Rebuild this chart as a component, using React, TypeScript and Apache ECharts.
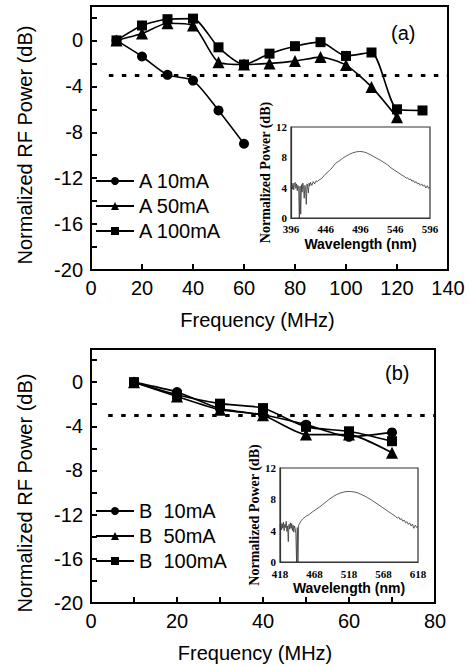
import React, { useEffect, useRef } from "react";
import * as echarts from "echarts";

// ---- main panel (a) ----
const freqA10 = [10, 20, 30, 40, 50, 60];
const powA10 = [0, -1.4, -3.0, -3.5, -6.1, -9.0];
const freqA50 = [10, 20, 30, 40, 50, 60, 70, 80, 90, 100, 110, 120];
const powA50 = [0, 0.6, 1.5, 1.3, -1.9, -2.1, -2.0, -1.8, -1.45, -2.15, -4.05, -6.7];
const freqA100 = [10, 20, 30, 40, 50, 60, 70, 80, 90, 100, 110, 120, 130];
const powA100 = [0, 1.3, 1.85, 1.9, -0.6, -2.1, -1.15, -0.5, -0.15, -1.35, -1.05, -6.0, -6.1];

// ---- main panel (b) ----
const freqB = [10, 20, 30, 40, 50, 60, 70];
const powB10 = [0, -0.9, -2.4, -2.95, -3.85, -4.95, -4.55];
const powB50 = [0, -1.3, -2.5, -3.0, -4.75, -4.75, -6.4];
const powB100 = [0, -1.15, -1.95, -2.35, -4.05, -4.45, -5.35];

const threshold = -3;

// ---- inset spectra ----
const wlA = [396, 397, 398, 399, 400, 401, 402, 403, 404, 405, 406, 407, 408, 409, 410, 411, 412, 413, 414, 415, 416, 417, 418, 419, 420, 421, 422, 423, 424, 426, 428, 430, 432, 434, 436, 438, 440,
  445, 450, 455, 460, 465, 470, 475, 480, 485, 490, 495, 500, 505, 510, 515, 520, 525, 530, 535, 540, 545, 550, 555, 560,
  562, 564, 566, 568, 570, 572, 574, 576, 578, 580, 582, 584, 586, 588, 590, 592, 594, 596];
const spA = [4.0, 4.5, 3.8, 4.6, 3.7, 4.4, 4.7, 3.9, 4.5, 3.6, 4.3, 3.9, 0.0, 4.2, 0.5, 4.4, 3.4, 4.6, 4.1, 2.6, 4.3, 3.8, 1.8, 4.5, 4.0, 3.3, 4.6, 4.2, 4.7, 4.3, 4.8, 4.5, 4.9, 4.8, 5.0, 5.1, 5.2,
  5.75, 6.15, 6.6, 7.2, 7.5, 7.85, 8.15, 8.4, 8.6, 8.72, 8.78, 8.72, 8.58, 8.35, 8.1, 7.85, 7.6, 7.3, 7.0, 6.6, 6.3, 6.0, 5.7, 5.4,
  5.25, 5.3, 5.05, 5.15, 4.85, 4.95, 4.65, 4.8, 4.5, 4.6, 4.3, 4.5, 4.2, 4.35, 3.95, 4.25, 3.9, 4.1];

const wlB = [418, 419, 420, 421, 422, 423, 424, 425, 426, 427, 428, 429, 430, 431, 432, 433, 434, 435, 436, 437, 438, 439, 440, 441, 442, 443, 444, 445, 447, 449, 451,
  455, 460, 465, 470, 475, 480, 485, 490, 495, 500, 505, 510, 515, 520, 525, 530, 535, 540, 545, 550, 555, 560, 565, 570, 575, 580, 585,
  588, 590, 592, 594, 596, 598, 600, 602, 604, 606, 608, 610, 612, 614, 616, 618];
const spB = [4.5, 5.0, 4.1, 4.9, 4.3, 5.1, 4.0, 4.8, 4.4, 5.2, 3.9, 4.6, 2.6, 4.8, 4.2, 5.0, 4.3, 4.9, 4.0, 4.7, 3.8, 4.6, 4.3, 3.6, 0.0, 4.4, 0.0, 4.7, 5.0, 5.3, 5.5,
  5.8, 6.05, 6.4, 6.7, 7.0, 7.35, 7.7, 8.05, 8.35, 8.6, 8.8, 8.92, 9.0, 9.0, 8.95, 8.85, 8.65, 8.45, 8.2, 7.95, 7.65, 7.35, 7.05, 6.75, 6.45, 6.15, 5.85,
  5.6, 5.75, 5.4, 5.55, 5.2, 5.35, 5.0, 5.15, 4.8, 5.0, 4.6, 4.85, 4.3, 4.7, 4.4, 4.6];

const zip = (xs: number[], ys: number[]) => xs.map((x, i) => [x, ys[i]]);

const SANS = "'Liberation Sans', Arial, sans-serif";
const SERIF = "'Liberation Serif', 'Times New Roman', serif";

export default function App() {
  const ref = useRef<HTMLDivElement>(null);
  useEffect(() => {
    if (!ref.current) return;
    const chart = echarts.init(ref.current, undefined, { renderer: "svg" });

    const mainX = (idx: number, max: number, padRight: number) => ({
      gridIndex: idx,
      type: "value",
      min: 0,
      max,
      interval: 20,
      name: "Frequency (MHz)",
      nameLocation: "middle",
      nameGap: 40,
      nameTextStyle: { fontFamily: SANS, fontSize: 20, color: "#000", padding: [0, padRight, 0, 0] },
      axisLine: { onZero: false, lineStyle: { color: "#000", width: 2 } },
      axisTick: { inside: true, length: 6, lineStyle: { color: "#000", width: 2 } },
      minorTick: idx === 2 ? { show: true, splitNumber: 2, length: 6, lineStyle: { color: "#000", width: 2 } } : { show: false },
      axisLabel: { fontFamily: SANS, fontSize: 20, color: "#000", margin: 8 },
      splitLine: { show: false },
    });
    const mainY = (idx: number, padRight: number) => ({
      gridIndex: idx,
      type: "value",
      min: -20,
      max: 3,
      interval: 4,
      name: "Normalized RF Power (dB)",
      nameLocation: "middle",
      nameGap: 56,
      nameTextStyle: { fontFamily: SANS, fontSize: 20, color: "#000", padding: [0, padRight, 0, 0] },
      axisLine: { onZero: false, lineStyle: { color: "#000", width: 2 } },
      axisTick: { inside: true, length: 6, lineStyle: { color: "#000", width: 2 } },
      minorTick: { show: true, splitNumber: 2, length: 6, lineStyle: { color: "#000", width: 2 } },
      axisLabel: { fontFamily: SANS, fontSize: 20, color: "#000", margin: 8, showMaxLabel: false },
      splitLine: { show: false },
      minorSplitLine: { show: false },
    });
    const insetX = (idx: number, min: number, fs: number, margin: number) => ({
      gridIndex: idx,
      type: "value",
      min,
      max: min + 200,
      interval: 50,
      name: "Wavelength (nm)",
      nameLocation: "middle",
      nameGap: 19,
      nameTextStyle: { fontFamily: SANS, fontWeight: "bold", fontSize: 14, color: "#000" },
      axisLine: { onZero: false, lineStyle: { color: "#333", width: 1.2 } },
      axisTick: { show: false },
      axisLabel: { fontFamily: SERIF, fontWeight: "bold", fontSize: fs, color: "#000", margin },
      splitLine: { show: false },
    });
    const insetY = (idx: number, fs: number, gap: number) => ({
      gridIndex: idx,
      type: "value",
      min: 0,
      max: 12,
      interval: 4,
      name: "Normalized Power (dB)",
      nameLocation: "middle",
      nameGap: gap,
      nameTextStyle: { fontFamily: SERIF, fontWeight: "bold", fontSize: 14, color: "#000" },
      axisLine: { onZero: false, lineStyle: { color: "#333", width: 1.2 } },
      axisTick: { show: false },
      axisLabel: { fontFamily: SERIF, fontWeight: "bold", fontSize: fs, color: "#000", margin: 4 },
      splitLine: { show: false },
    });

    const dataSeries = (name: string, x: number, y: number, xs: number[], ys: number[], symbol: string, size: number, smooth: number) => ({
      name,
      type: "line",
      xAxisIndex: x,
      yAxisIndex: y,
      data: zip(xs, ys),
      smooth,
      symbol,
      symbolSize: size,
      itemStyle: { color: "#000" },
      lineStyle: { color: "#000", width: 1.6 },
      z: 5,
    });

    const dotted = (xFrom: number, xTo: number) => ({
      symbol: "none",
      silent: true,
      label: { show: false },
      lineStyle: { type: [4.5, 8.5], width: 3, color: "#000" },
      data: [[{ coord: [xFrom, threshold] }, { coord: [xTo, threshold] }]],
    });

    const legendBase = {
      orient: "vertical",
      left: 95,
      padding: 0,
      itemWidth: 38,
      itemHeight: 10,
      itemGap: 5,
      textStyle: { fontFamily: SANS, fontSize: 20, color: "#000", lineHeight: 20 },
      selectedMode: false,
    };

    const sA10 = dataSeries("A 10mA", 0, 0, freqA10, powA10, "circle", 10, 0.25);
    const sA50 = dataSeries("A 50mA", 0, 0, freqA50, powA50, "triangle", 12, 0.22);
    const sA100 = dataSeries("A 100mA", 0, 0, freqA100, powA100, "rect", 10, 0.22);
    (sA100 as any).markLine = dotted(7, 140);
    const sB10 = dataSeries("B  10mA", 2, 2, freqB, powB10, "circle", 10, 0.2);
    const sB50 = dataSeries("B  50mA", 2, 2, freqB, powB50, "triangle", 12, 0.2);
    const sB100 = dataSeries("B  100mA", 2, 2, freqB, powB100, "rect", 10, 0.2);
    (sB100 as any).markLine = dotted(4, 80);

    const spectrum = (idx: number, wl: number[], sp: number[]) => ({
      type: "line",
      xAxisIndex: idx,
      yAxisIndex: idx,
      data: zip(wl, sp),
      showSymbol: false,
      symbol: "none",
      lineStyle: { color: "#333", width: 0.8 },
      silent: true,
      z: 3,
    });

    chart.setOption({
      animation: false,
      backgroundColor: "#fff",
      grid: [
        { left: 91, top: 6, width: 357, height: 264, show: true, borderColor: "#000", borderWidth: 2, backgroundColor: "transparent" },
        { left: 291, top: 127, width: 139, height: 91, show: true, borderColor: "#333", borderWidth: 1.2, backgroundColor: "#fff" },
        { left: 91, top: 349, width: 344, height: 254, show: true, borderColor: "#000", borderWidth: 2, backgroundColor: "transparent" },
        { left: 280, top: 468, width: 138, height: 94, show: true, borderColor: "#333", borderWidth: 1.2, backgroundColor: "#fff" },
      ],
      xAxis: [mainX(0, 140, 24), insetX(1, 396, 11, 5), mainX(2, 80, 16), insetX(3, 418, 11, 6)],
      yAxis: [mainY(0, 14), insetY(1, 11, 19), mainY(2, 34), insetY(3, 11, 19)],
      legend: [
        { ...legendBase, top: 171, data: ["A 10mA", "A 50mA", "A 100mA"] },
        { ...legendBase, top: 501, data: ["B  10mA", "B  50mA", "B  100mA"] },
      ],
      graphic: [
        { type: "text", left: 391, top: 23, style: { text: "(a)", fontFamily: SANS, fontSize: 20, fill: "#000" } },
        { type: "text", left: 385, top: 363, style: { text: "(b)", fontFamily: SANS, fontSize: 20, fill: "#000" } },
      ],
      series: [sA10, sA50, sA100, spectrum(1, wlA, spA), sB10, sB50, sB100, spectrum(3, wlB, spB)],
    });
    return () => chart.dispose();
  }, []);
  return <div ref={ref} style={{ position: "fixed", left: 0, top: 0, width: 470, height: 666 }} />;
}
